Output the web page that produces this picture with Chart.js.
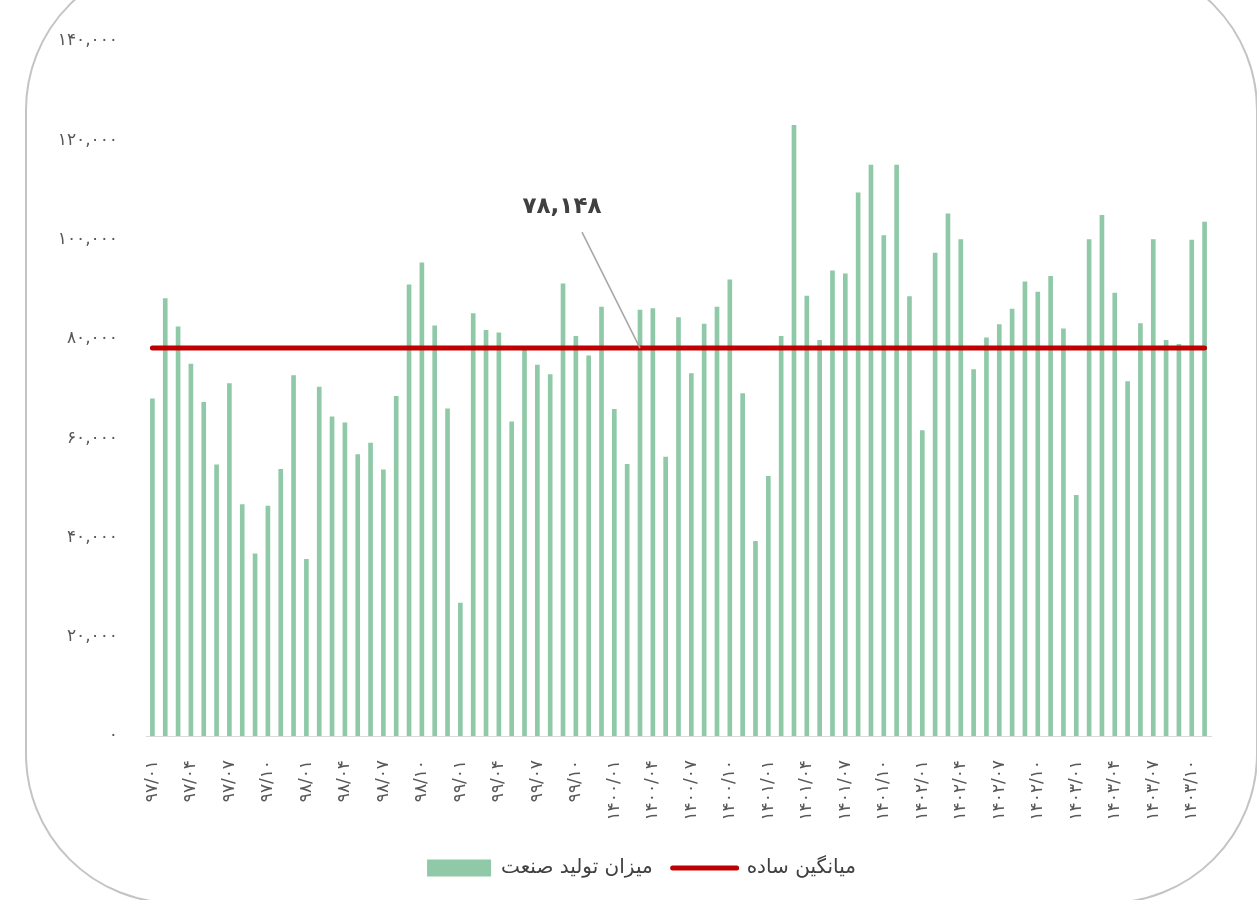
<!DOCTYPE html>
<html>
<head>
<meta charset="utf-8">
<script src="https://cdn.jsdelivr.net/npm/chart.js@4/dist/chart.umd.min.js"></script>
<style>
  body { margin: 0; background: #fff; }
  #wrap { position: relative; width: 1257px; height: 900px; overflow: hidden; }
  #frame {
    position: absolute; left: 25px; top: -40px; width: 1229px; height: 940px;
    border: 2px solid #c4c4c4; border-radius: 150px;
  }
  canvas { position: absolute; left: 0; top: 0; }
</style>
</head>
<body>
<div id="wrap">
  <div id="frame"></div>
  <canvas id="grafico" width="1257" height="900"></canvas>
</div>
<script>
const years = ['۹۷', '۹۸', '۹۹', '۱۴۰۰', '۱۴۰۱', '۱۴۰۲', '۱۴۰۳'];
const months = ['۰۱', '۰۲', '۰۳', '۰۴', '۰۵', '۰۶', '۰۷', '۰۸', '۰۹', '۱۰', '۱۱', '۱۲'];
const monthCount = 83; // ۹۷/۰۱ تا ۱۴۰۳/۱۱

const production = [
  67900, 88100, 82400, 74900, 67200, 54600, 71000, 46600, 36700, 46300, 53700, 72600,
  35600, 70300, 64300, 63100, 56700, 59000, 53600, 68400, 90900, 95300, 82600, 65900,
  26800, 85100, 81700, 81200, 63300, 77800, 74700, 72800, 91100, 80500, 76600, 86400,
  65800, 54700, 85800, 86100, 56200, 84300, 73000, 83000, 86400, 91900, 69000, 39200,
  52300, 80500, 123000, 88600, 79700, 93700, 93100, 109400, 115000, 100800, 115000, 88500,
  61500, 97300, 105200, 100000, 73800, 80200, 82900, 86000, 91500, 89400, 92600, 82000,
  48500, 100000, 104900, 89200, 71400, 83100, 100000, 79700, 78900, 99900, 103500
];
const averageValue = 78148;
const averageText = '۷۸,۱۴۸';
const annotIndex = 38;

const yTicks = [0, 20000, 40000, 60000, 80000, 100000, 120000, 140000];

const labels = years.flatMap(y => months.map(m => y + '/' + m)).slice(0, monthCount);

const faDigits = '۰۱۲۳۴۵۶۷۸۹';
function toFa(n) {
  return n.toLocaleString('en-US').replace(/[0-9]/g, d => faDigits[d]);
}

const fontFamily = '"DejaVu Sans", "Noto Sans", sans-serif';

const annotation = {
  id: 'averageNote',
  afterLayout(chart) {
    // legend sits a bit right of the plot centre in the original
    chart.legend.left += 36;
    chart.legend.right += 36;
  },
  afterDatasetsDraw(chart) {
    const x = chart.scales.x.getPixelForValue(annotIndex);
    const y = chart.scales.y.getPixelForValue(averageValue);
    const ctx = chart.ctx;
    ctx.save();
    ctx.strokeStyle = '#a6a6a6';
    ctx.lineWidth = 1.5;
    ctx.beginPath();
    ctx.moveTo(x - 58, y - 116);
    ctx.lineTo(x, y);
    ctx.stroke();
    ctx.fillStyle = '#404040';
    ctx.font = 'bold 23px ' + fontFamily;
    ctx.textAlign = 'center';
    ctx.textBaseline = 'middle';
    ctx.fillText(averageText, x - 78, y - 141);
    ctx.restore();
  }
};

let grafico = document.getElementById('grafico').getContext('2d');

let chart = new Chart(grafico, {
    type: 'bar',
    data: {
        labels: labels,
        datasets: [{
                type: 'line',
                label: 'میانگین ساده',
                data: labels.map(() => averageValue),
                borderColor: '#c00000',
                backgroundColor: '#c00000',
                borderWidth: 5,
                borderCapStyle: 'round',
                pointRadius: 0,
                fill: false
            },
            {
                label: 'میزان تولید صنعت',
                data: production,
                backgroundColor: '#8fc9a8',
                borderWidth: 0,
                barThickness: 4
            }
        ]
    },
    options: {
        responsive: false,
        animation: false,
        layout: { padding: { top: 41, right: 46, bottom: 12, left: 0 } },
        plugins: {
            tooltip: { enabled: false },
            legend: {
                position: 'bottom',
                reverse: true,
                labels: {
                    usePointStyle: true,
                    pointStyleWidth: 64,
                    boxHeight: 17,
                    padding: 20,
                    color: '#404040',
                    font: { family: fontFamily, size: 20 },
                    generateLabels(chart) {
                        const items = Chart.defaults.plugins.legend.labels.generateLabels(chart);
                        items.forEach(it => {
                            it.pointStyle = it.datasetIndex === 0 ? 'line' : 'rect';
                            if (it.datasetIndex === 0) { it.lineWidth = 5; it.lineCap = 'round'; }
                            else { it.lineWidth = 0; }
                        });
                        return items;
                    }
                }
            }
        },
        scales: {
            x: {
                grid: { display: false, drawTicks: false },
                border: { display: true, color: '#d9d9d9', width: 1 },
                ticks: {
                    autoSkip: false,
                    minRotation: 90,
                    maxRotation: 90,
                    padding: 24,
                    color: '#595959',
                    font: { family: fontFamily, size: 17 },
                    callback: (v, i) => (i % 3 === 0 ? labels[i] : '')
                },
                afterFit: s => { s.height = 102; }
            },
            y: {
                min: 0,
                max: 140000,
                afterBuildTicks: s => { s.ticks = yTicks.map(v => ({ value: v })); },
                grid: { display: false, drawTicks: false },
                border: { display: false },
                ticks: {
                    padding: 28,
                    color: '#595959',
                    font: { family: fontFamily, size: 17 },
                    callback: v => toFa(v)
                },
                afterFit: s => { s.width = 146; }
            }
        }
    },
    plugins: [annotation]
});
</script>
</body>
</html>
